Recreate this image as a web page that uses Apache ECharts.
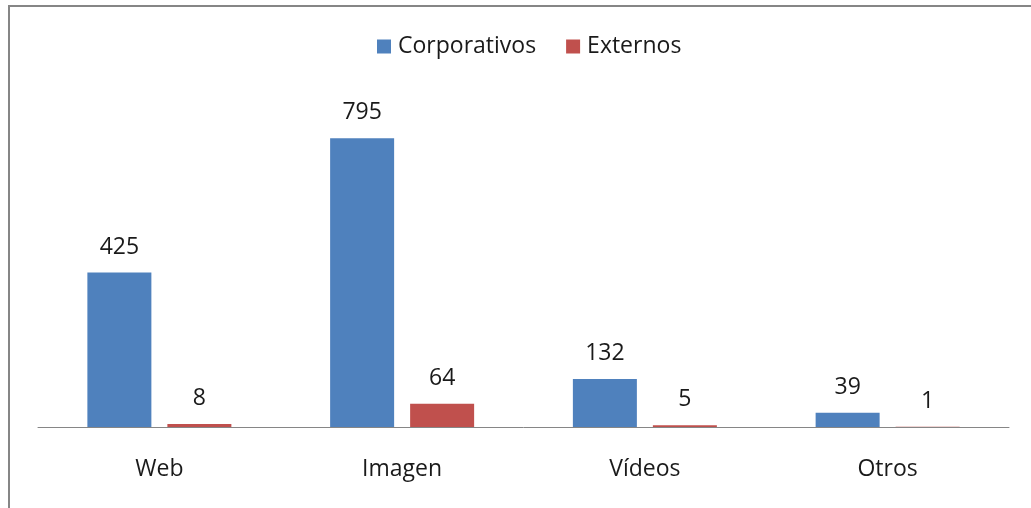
<!DOCTYPE html>
<html>
<head>
<meta charset="utf-8">
<style>
  html, body { margin: 0; padding: 0; background: #fff; }
  #chart { width: 1031px; height: 508px; }
</style>
<script src="https://cdn.jsdelivr.net/npm/echarts@6/dist/echarts.min.js"></script>
</head>
<body>
<div id="chart"></div>
<script>
const categories = ['Web', 'Imagen', 'Vídeos', 'Otros'];
const seriesNames = ['Corporativos', 'Externos'];
const corporativos = [425, 795, 132, 39];
const externos = [8, 64, 5, 1];

const FONT = '"Open Sans", sans-serif';
const chart = echarts.init(document.getElementById('chart'), null, { renderer: 'canvas' });
chart.setOption({
  backgroundColor: '#ffffff',
  animation: false,
  graphic: [{
    type: 'rect',
    shape: { x: 9, y: 6, width: 1200, height: 700 },
    style: { fill: 'none', stroke: '#868686', lineWidth: 2 },
    silent: true
  }],
  legend: {
    data: seriesNames,
    left: 377,
    top: 35,
    padding: 0,
    itemWidth: 14,
    itemHeight: 14,
    itemGap: 30,
    icon: 'rect',
    textStyle: { fontFamily: FONT, fontSize: 23, color: '#1a1a1a', padding: [0, 0, 0, 2] }
  },
  grid: { left: 38, right: 22, top: 100, bottom: 81, containLabel: false },
  xAxis: {
    type: 'category',
    data: categories,
    axisLine: { show: true, lineStyle: { color: '#868686', width: 1 } },
    axisTick: { show: false },
    axisLabel: { margin: 31, fontFamily: FONT, fontSize: 23, color: '#1a1a1a' }
  },
  yAxis: {
    type: 'value',
    min: 0,
    max: 900,
    show: false,
    splitLine: { show: false }
  },
  series: [
    {
      name: seriesNames[0],
      type: 'bar',
      data: corporativos,
      barWidth: 64,
      barGap: '25%',
      itemStyle: { color: '#4F81BD' },
      label: { show: true, position: 'top', distance: 14, fontFamily: FONT, fontSize: 23, color: '#1a1a1a' }
    },
    {
      name: seriesNames[1],
      type: 'bar',
      data: externos,
      barWidth: 64,
      barGap: '25%',
      itemStyle: { color: '#C0504D' },
      label: { show: true, position: 'top', distance: 14, fontFamily: FONT, fontSize: 23, color: '#1a1a1a' }
    }
  ]
});
</script>
</body>
</html>
